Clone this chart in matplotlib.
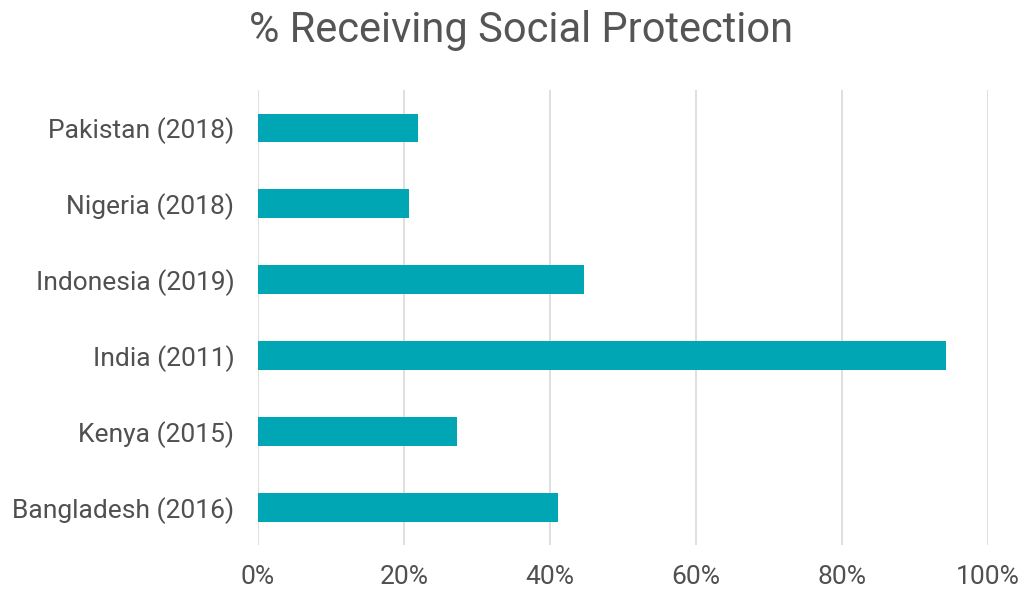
import matplotlib.pyplot as plt
import numpy as np

countries = ["Bangladesh (2016)", "Kenya (2015)", "India (2011)",
             "Indonesia (2019)", "Nigeria (2018)", "Pakistan (2018)"]
share = [41.1, 27.3, 94.2, 44.6, 20.7, 21.9]
xticks = [0, 20, 40, 60, 80, 100]

plt.rcParams['font.family'] = ['Roboto', 'DejaVu Sans']

fig = plt.figure(figsize=(10.24, 5.92), dpi=100)
ax = fig.add_axes([0.252, 0.079, 0.713, 0.769])

y = np.arange(len(countries))
ax.barh(y, share, height=0.38, color='#00a6b4', zorder=3)

ax.set_xlim(0, 100)
ax.set_ylim(-0.5, len(countries) - 0.5)
ax.set_xticks(xticks)
ax.set_xticklabels([f"{t}%" for t in xticks])
ax.set_yticks(y)
ax.set_yticklabels(countries)
ax.grid(axis='x', color='#dcdcdc', linewidth=1.3, zorder=0)
ax.tick_params(length=0, labelsize=19, colors='#505050')
ax.tick_params(axis='x', pad=14)
ax.tick_params(axis='y', pad=17)
for s in ax.spines.values():
    s.set_visible(False)

fig.text(0.509, 0.948, "% Receiving Social Protection", ha='center', va='center',
         fontsize=30, color='#555555')

fig.savefig("out.png", dpi=100)
